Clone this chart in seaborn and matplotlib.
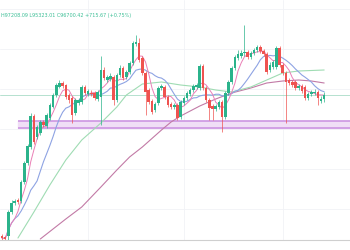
import numpy as np
import pandas as pd
import matplotlib
matplotlib.use("Agg")
import matplotlib.pyplot as plt
import seaborn as sns

# ---- candle data (USD) ----
opens = [68500, 68300, 68500, 73300, 75100, 75700, 75500, 79300, 83100, 86300,
         92500, 88300, 89100, 91300, 90500, 92100, 94300, 96700, 98300, 99100,
         98700, 96700, 96100, 93100, 95100, 95300, 98300, 96900, 97100, 97100,
         95900, 96300, 101700, 99700, 99900, 100300, 95700, 100700, 102100, 100300,
         101300, 103100, 106900, 107100, 104100, 101100, 97700, 95500, 93700, 95100,
         98100, 98300, 96300, 94900, 94300, 94700, 92300, 95100, 96100, 96900,
         97700, 98300, 98100, 102500, 98100, 95700, 94500, 93900, 94300, 95300,
         92300, 97100, 99300, 102100, 104100, 104500, 105100, 105300, 104300, 105100,
         105700, 106300, 105500, 104900, 101700, 102300, 102300, 106100, 102700, 101100,
         99700, 99300, 99300, 98100, 98500, 98300, 96100, 96900, 97100, 97300,
         95500, 95985]
highs = [68900, 68500, 73700, 75700, 75900, 76100, 79700, 83500, 86900, 93100,
         92900, 90700, 91700, 91700, 93100, 95100, 97100, 99100, 99700, 99500,
         98900, 97100, 96500, 96100, 96100, 98700, 98700, 97900, 97700, 97500,
         97700, 104500, 102300, 100700, 101100, 100700, 101100, 102700, 102500, 101700,
         103500, 107500, 108700, 108100, 104500, 101500, 98100, 95900, 95300, 98500,
         98900, 98700, 96700, 95300, 95100, 95100, 95700, 96500, 97500, 98100,
         98900, 99100, 102900, 102900, 98500, 96100, 94900, 94900, 95700, 95700,
         97500, 99700, 102500, 104700, 105700, 105700, 110700, 105700, 105500, 106100,
         106700, 106700, 105900, 105300, 103300, 103700, 106500, 106500, 103100, 101500,
         100100, 99700, 99700, 98900, 98900, 98700, 97300, 97700, 97900, 97700,
         96600, 97208.09]
lows = [67700, 67500, 67500, 72900, 74700, 74900, 75100, 78900, 82700, 85900,
        86900, 87900, 88700, 90300, 90100, 91700, 94100, 96300, 98100, 98100,
        95900, 95100, 91100, 92700, 94700, 94900, 96700, 96500, 96500, 95700,
        95500, 90700, 99700, 99300, 99500, 94700, 95300, 100300, 99700, 99900,
        100900, 102700, 106500, 103300, 100700, 92700, 94900, 92900, 93300, 94700,
        97700, 95900, 94300, 93900, 93900, 91700, 91900, 94700, 95700, 96500,
        97300, 97900, 97700, 97700, 95300, 91700, 91700, 93500, 93900, 89300,
        91900, 96700, 98900, 101700, 103700, 104100, 104500, 103900, 103900, 104700,
        105300, 105100, 104500, 100900, 101300, 101900, 101900, 102300, 100700, 91100,
        98700, 98300, 97700, 97700, 97100, 95700, 95700, 96500, 96700, 94700,
        95100, 95323.01]
closes = [68100, 67900, 73300, 75100, 75500, 75300, 79300, 83100, 86500, 92500,
          87300, 90300, 91300, 90700, 92700, 94700, 96700, 98700, 99100, 98500,
          96300, 95700, 92700, 95700, 95700, 98300, 97100, 97500, 96900, 96100,
          97300, 101700, 100100, 100300, 100500, 95700, 100700, 102100, 100100, 101300,
          103100, 107100, 107300, 103700, 101100, 97300, 95300, 93300, 94900, 98100,
          98500, 96300, 94700, 94300, 94700, 92100, 95300, 96100, 97100, 97700,
          98500, 98700, 102500, 98100, 95700, 94100, 93900, 94500, 95300, 92300,
          97100, 99300, 102100, 104300, 104900, 105100, 105300, 104300, 105100, 105700,
          106300, 105500, 104900, 101300, 102700, 103300, 106100, 102700, 101100, 99300,
          99100, 98700, 98100, 98500, 97500, 96100, 96900, 97300, 97300, 96100,
          95985, 96700.42]

# long moving averages (candle index, USD)
ma_green_idx = [5, 10, 15, 20, 25, 31, 36, 39, 44, 50, 56, 62, 67, 72, 78, 83, 88, 93, 101]
ma_green_val = [68100, 73300, 78700, 83700, 87700, 91100, 94300, 96700, 98900, 99300,
                98700, 98300, 97700, 97300, 98300, 99700, 101100, 101500, 101700]
ma_purple_idx = [12, 20, 25, 31, 36, 40, 44, 50, 53, 56, 62, 67, 72, 78, 83, 88, 93, 97, 101]
ma_purple_val = [67900, 71900, 74300, 78300, 81700, 84300, 86300, 89700, 91300, 92500,
                 94500, 95900, 97100, 98100, 99100, 99500, 99700, 99500, 99100]

support_zone = (90100, 91500)
last_price = 96700.42
header = "H97208.09 L95323.01 C96700.42 +715.67 (+0.75%)"
grid_prices = [114000, 106000, 98000, 90000, 82000, 74000]
grid_times = [27, 57, 88]

# ---- figure ----
sns.set_style("white")
fig = plt.figure(figsize=(3.5, 2.5), dpi=100)
fig.patch.set_facecolor("white")
ax = fig.add_axes([0, 10 / 250, 1, 240 / 250])
ax.set_facecolor("white")

df = pd.DataFrame({"o": opens, "h": highs, "l": lows, "c": closes})
df["i"] = np.arange(len(df))
up = df["c"] >= df["o"]
GREEN, RED = "#2bb38b", "#ef5350"
colors = np.where(up, GREEN, RED)

for p in grid_prices:
    ax.axhline(p, color="#f1f2f6", lw=0.6, zorder=0)
for t in grid_times:
    ax.axvline(t, color="#f1f2f6", lw=0.6, zorder=0)

# support band
ax.fill_between([5.0, 112], support_zone[0], support_zone[1], color="#f0def6", zorder=1)
ax.hlines(list(support_zone), 5.0, 112, color="#c98fe0", lw=1.1, zorder=1)

# last price line
ax.axhline(last_price, color="#a9dcc7", lw=0.6, zorder=1)

# moving averages
df["ma_short"] = df["c"].rolling(5, min_periods=1).mean()
df["ma_mid"] = df["c"].rolling(12, min_periods=1).mean()
sns.lineplot(x=ma_purple_idx, y=ma_purple_val, ax=ax, color="#c27aa6", lw=0.8, zorder=2)
sns.lineplot(x=ma_green_idx, y=ma_green_val, ax=ax, color="#9fdcb3", lw=0.8, zorder=2)
sns.lineplot(data=df, x="i", y="ma_mid", ax=ax, color="#8ea3e3", lw=0.8, zorder=2)
sns.lineplot(data=df, x="i", y="ma_short", ax=ax, color="#ea7fb6", lw=0.7, zorder=2)

# candles
body = df["c"] - df["o"]
body = np.where(np.abs(body) < 150, np.where(body >= 0, 150, -150), body)
ax.vlines(df["i"], df["l"], df["h"], colors=colors, lw=0.5, zorder=3)
ax.bar(df["i"], body, bottom=df["o"], width=0.8, color=colors, linewidth=0, zorder=4)

ax.set_xlim(-0.63, 109.1)
ax.set_ylim(67700, 115700)
ax.set_xticks([])
ax.set_yticks([])
ax.set_xlabel("")
ax.set_ylabel("")
for s in ["top", "left", "right"]:
    ax.spines[s].set_visible(False)
ax.spines["bottom"].set_color("#cfcfcf")
ax.spines["bottom"].set_linewidth(0.8)

fig.text(1 / 350, 1 - 15 / 250, header, color="#3dbf96", fontsize=3.5,
         va="center", ha="left")

fig.savefig("out.png", dpi=100)
